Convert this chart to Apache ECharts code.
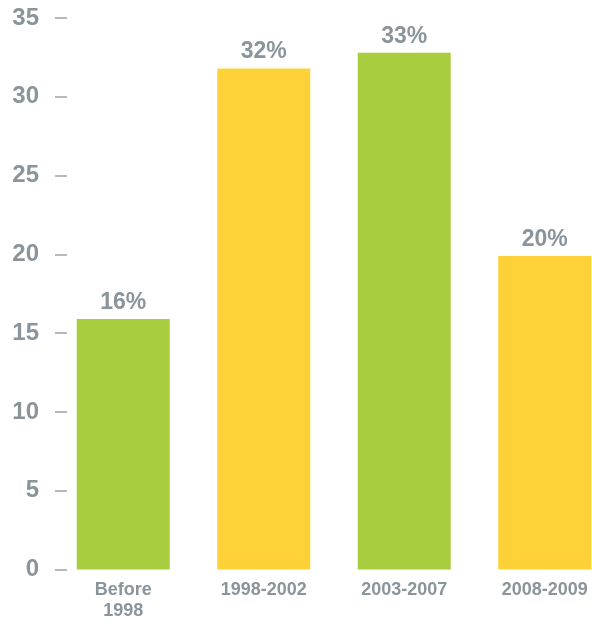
<!DOCTYPE html>
<html>
<head>
<meta charset="utf-8">
<script src="https://cdn.jsdelivr.net/npm/echarts@6/dist/echarts.min.js"></script>
<style>
html,body{margin:0;padding:0;background:#fff;overflow:hidden;width:592px;height:622px;}
#chart{width:620px;height:622px;}
</style>
</head>
<body>
<div id="chart"></div>
<script>
var categories = ['Before\n1998', '1998-2002', '2003-2007', '2008-2009'];
var values = [15.9, 31.8, 32.8, 19.9];
var barColors = ['#a8cd3f', '#fdd137', '#a8cd3f', '#fdd137'];
var yTicks = { min: 0, max: 35, interval: 5 };

var chart = echarts.init(document.getElementById('chart'), null, { renderer: 'canvas' });
var grey = '#8a949b';
chart.setOption({
  animation: false,
  backgroundColor: '#ffffff',
  grid: { left: 53, width: 562, top: 18, bottom: 52.5, containLabel: false },
  xAxis: {
    type: 'category',
    data: categories,
    axisLine: { show: false },
    axisTick: { show: false },
    axisLabel: {
      color: grey,
      fontFamily: 'Liberation Sans, Arial, sans-serif',
      fontWeight: 'bold',
      fontSize: 18,
      lineHeight: 21,
      margin: 10,
      interval: 0
    }
  },
  yAxis: {
    type: 'value',
    min: yTicks.min,
    max: yTicks.max,
    interval: yTicks.interval,
    offset: -14,
    splitLine: { show: false },
    axisLine: { show: false },
    axisTick: { show: true, length: 12, lineStyle: { color: '#b3b9bd', width: 2 } },
    axisLabel: {
      color: grey,
      fontFamily: 'Liberation Sans, Arial, sans-serif',
      fontWeight: 'bold',
      fontSize: 24,
      margin: 28
    }
  },
  series: [{
    type: 'bar',
    data: values.map(function (v, i) { return { value: v, itemStyle: { color: barColors[i] } }; }),
    barWidth: 93,
    label: {
      show: true,
      position: 'top',
      distance: 5,
      color: grey,
      fontFamily: 'Liberation Sans, Arial, sans-serif',
      fontWeight: 'bold',
      fontSize: 23,
      formatter: function (p) { return Math.round(p.value) + '%'; }
    }
  }]
});
</script>
</body>
</html>
